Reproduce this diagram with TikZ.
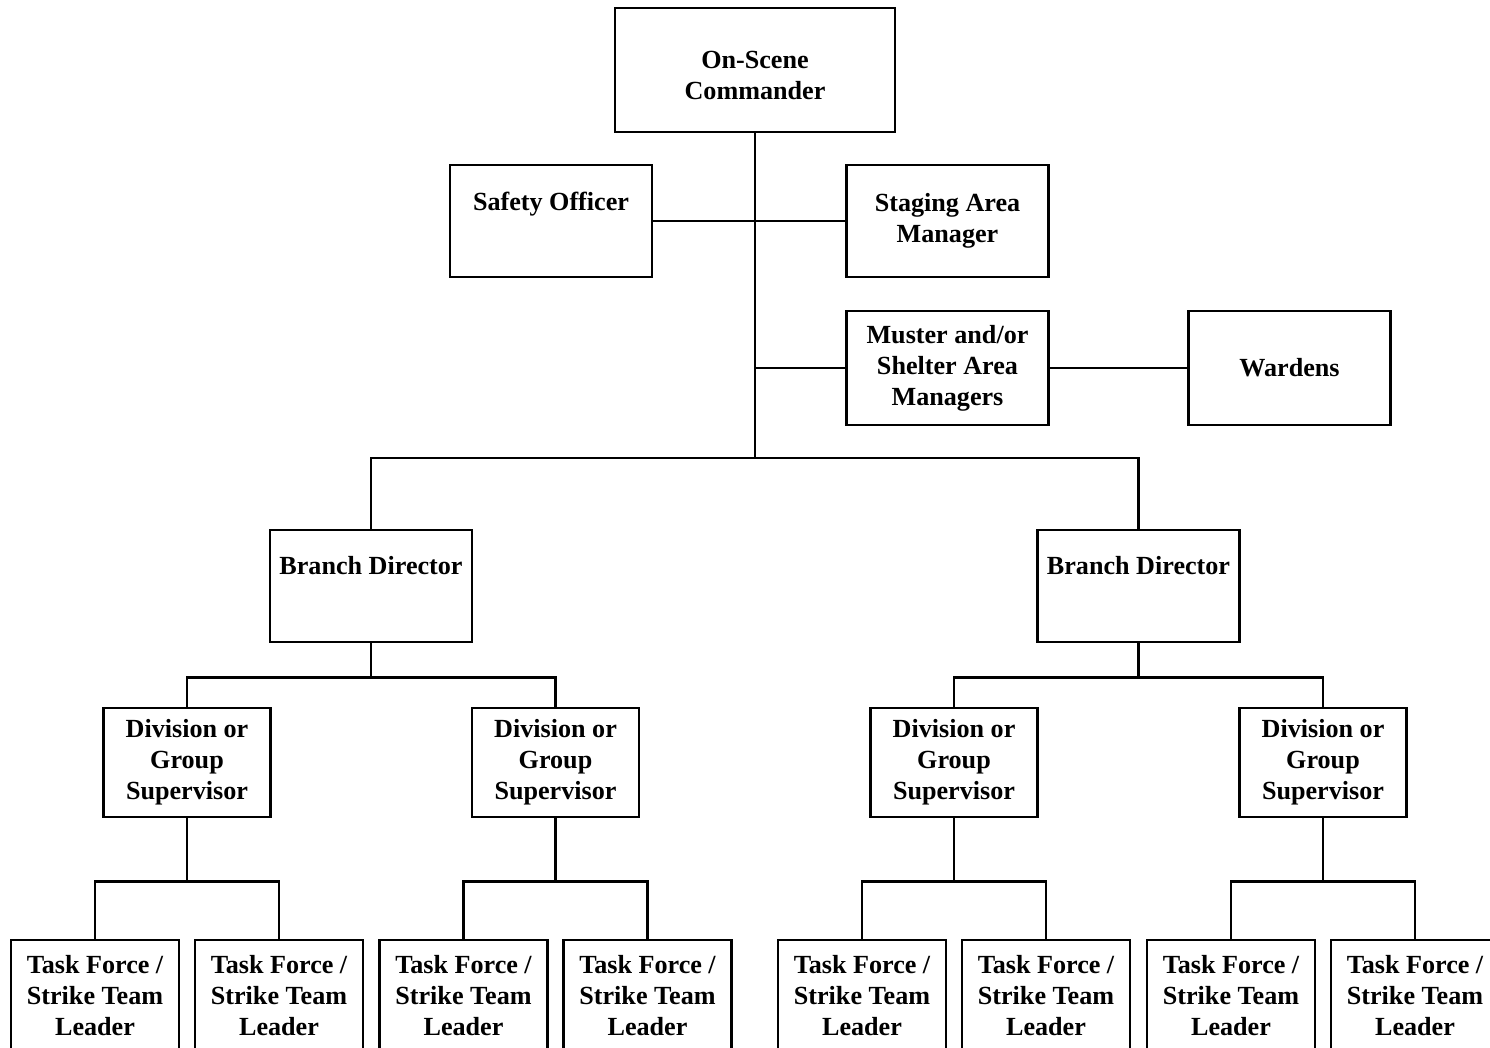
\documentclass[tikz,border=0pt]{standalone}
\usepackage{fontspec}
\setmainfont{Liberation Serif}

\tikzset{
    box/.style={draw, line width=2pt, inner sep=0pt, align=center,
        font=\bfseries\fontsize{19.6}{23.25}\selectfont},
    topbox/.style={box, minimum width=210pt, minimum height=93pt},
    staffbox/.style={box, minimum width=151.5pt, minimum height=84pt},
    divbox/.style={box, minimum width=125.25pt, minimum height=81.75pt},
    tfbox/.style={box, minimum width=126pt, minimum height=84pt}
}

\begin{document}
\begin{tikzpicture}[x=0.75pt, y=-0.75pt, line width=2pt]
    \clip (0,0) rectangle (1490,1048);

    % Commandement
        \node[topbox, text height=45pt] (osc) at (755,70) {On-Scene\\Commander};
        \coordinate (hub) at (755,458);
        \draw (osc.south) -- (hub);

    % Etat-major
        \node[staffbox] (safety) at (551,221) {Safety Officer\\\strut};
        \node[staffbox] (staging) at (947.5,221) {Staging Area\\Manager};
        \draw (safety.east) -- (staging.west);

        \node[staffbox, minimum height=85.5pt] (muster) at (947.5,368) {Muster and/or\\Shelter Area\\Managers};
        \node[staffbox, minimum height=85.5pt] (wardens) at (1289.5,368) {Wardens};
        \draw (muster.west) -- (muster.west -| hub);
        \draw (muster.east) -- (wardens.west);

    % Branches
        \node[staffbox] (brA) at (371,586) {Branch Director\\\strut};
        \node[staffbox] (brB) at (1138.5,586) {Branch Director\\\strut};
        \draw (brA.north) |- (hub) -| (brB.north);

% Variables: name, branch, x position
        \def\mkDivision#1#2#3{
            \node[divbox] (#1) at (#3,762.5) {Division or\\Group\\Supervisor};
            \draw (#2.south) -- ++(0,34) -| (#1.north);

   % Chefs d'equipe
            \node[tfbox] (#1a) at ({#3-92},996) {Task Force /\\Strike Team\\Leader};
            \node[tfbox] (#1b) at ({#3+92},996) {Task Force /\\Strike Team\\Leader};
            \draw (#1.south) -- ++(0,63) -| (#1a.north);
            \draw (#1.south) ++(0,63) -| (#1b.north);
}

\mkDivision{dvA}{brA}{187};
\mkDivision{dvB}{brA}{555.5};
\mkDivision{dvC}{brB}{954};
\mkDivision{dvD}{brB}{1323};

\end{tikzpicture}
\end{document}
